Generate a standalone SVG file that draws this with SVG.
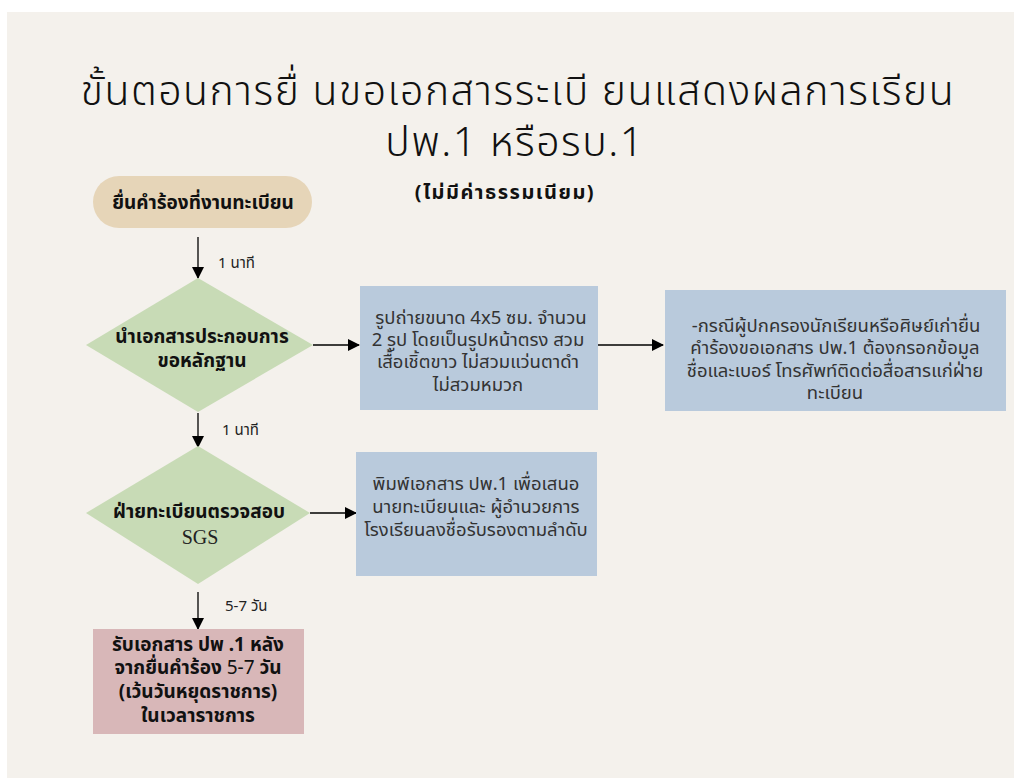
<svg xmlns="http://www.w3.org/2000/svg" width="1020" height="778" viewBox="0 0 1020 778">
<defs>
<marker id="ah" markerWidth="12" markerHeight="12" refX="11" refY="6" orient="auto" markerUnits="userSpaceOnUse">
<path d="M0,0 L12,6 L0,12 Z" fill="#000"/>
</marker>
<style>
.t{font-family:"Noto Sans","Noto Sans Thai","Liberation Sans",sans-serif;fill:#111;}
.b{font-weight:bold;font-size:19px;}
.n{font-size:18.5px;fill:#333;}
.s{font-size:15px;fill:#222;}
.c{stroke:#000;stroke-width:1.3;fill:none;marker-end:url(#ah);}
</style>
</defs>
<rect x="0" y="0" width="1020" height="778" fill="#fff"/>
<rect x="7" y="12" width="1007" height="766" fill="#f4f1ec"/>
<g id="title">
<text class="t" x="518" y="105" text-anchor="middle" font-size="41" font-weight="300" letter-spacing="1.5">ขั้นตอนการยื่ นขอเอกสารระเบี ยนแสดงผลการเรียน</text>
<text class="t" x="515" y="156" text-anchor="middle" font-size="41" font-weight="300" letter-spacing="1.5">ปพ.1 หรือรบ.1</text>
<text class="t" x="505" y="199" text-anchor="middle" font-size="20" font-weight="bold" letter-spacing="1.5">(ไม่มีค่าธรรมเนียม)</text>
</g>
<g id="connectors">
<line class="c" x1="198" y1="237" x2="198" y2="278"/>
<text class="t s" x="218" y="268">1 นาที</text>
<line class="c" x1="313" y1="345" x2="359" y2="345"/>
<line class="c" x1="598" y1="345" x2="663" y2="345"/>
<line class="c" x1="198" y1="413" x2="198" y2="447"/>
<text class="t s" x="222" y="435">1 นาที</text>
<line class="c" x1="310" y1="513" x2="356" y2="513"/>
<line class="c" x1="198" y1="592" x2="198" y2="629"/>
<text class="t s" x="225" y="611">5-7 วัน</text>
</g>
<g id="n1">
<rect x="93" y="176" width="219" height="52" rx="26" fill="#e6d5b8"/>
<text class="t b" x="203" y="209" text-anchor="middle">ยื่นคำร้องที่งานทะเบียน</text>
</g>
<g id="n2">
<polygon points="198,278 313,345 198,412 86,345" fill="#c8dbb6"/>
<text class="t b" x="202" y="343" text-anchor="middle">นำเอกสารประกอบการ</text>
<text class="t b" x="202" y="367" text-anchor="middle">ขอหลักฐาน</text>
</g>
<g id="n3">
<rect x="360" y="286" width="238" height="124" fill="#b9cadc"/>
<text class="t n" x="481" y="324" text-anchor="middle">รูปถ่ายขนาด 4x5 ซม. จำนวน</text>
<text class="t n" x="478" y="346" text-anchor="middle">2 รูป โดยเป็นรูปหน้าตรง สวม</text>
<text class="t n" x="478" y="368" text-anchor="middle">เสื้อเชิ้ตขาว ไม่สวมแว่นตาดำ</text>
<text class="t n" x="478" y="391" text-anchor="middle">ไม่สวมหมวก</text>
</g>
<g id="n4">
<rect x="665" y="290" width="341" height="121" fill="#b9cadc"/>
<text class="t n" x="836" y="332" text-anchor="middle">-กรณีผู้ปกครองนักเรียนหรือศิษย์เก่ายื่น</text>
<text class="t n" x="835" y="354" text-anchor="middle">คำร้องขอเอกสาร ปพ.1 ต้องกรอกข้อมูล</text>
<text class="t n" x="835" y="377" text-anchor="middle">ชื่อและเบอร์ โทรศัพท์ติดต่อสื่อสารแก่ฝ่าย</text>
<text class="t n" x="835" y="399" text-anchor="middle">ทะเบียน</text>
</g>
<g id="n5">
<polygon points="198,446 310,513 198,584 86,513" fill="#c8dbb6"/>
<text class="t b" x="199" y="518" text-anchor="middle">ฝ่ายทะเบียนตรวจสอบ</text>
<text x="200" y="544" text-anchor="middle" font-family="Liberation Serif,serif" font-size="20" fill="#222">SGS</text>
</g>
<g id="n6">
<rect x="356" y="452" width="241" height="124" fill="#b9cadc"/>
<text class="t n" x="476" y="490" text-anchor="middle">พิมพ์เอกสาร ปพ.1 เพื่อเสนอ</text>
<text class="t n" x="476" y="513" text-anchor="middle">นายทะเบียนและ ผู้อำนวยการ</text>
<text class="t n" x="476" y="536" text-anchor="middle">โรงเรียนลงชื่อรับรองตามลำดับ</text>
</g>
<g id="n7">
<rect x="93" y="629" width="211" height="105" fill="#d8b7b8"/>
<text class="t b" x="198" y="651" text-anchor="middle">รับเอกสาร ปพ .1 หลัง</text>
<text class="t b" x="198" y="674" text-anchor="middle">จากยื่นคำร้อง <tspan font-weight="normal">5-7</tspan> วัน</text>
<text class="t b" x="198" y="698" text-anchor="middle">(เว้นวันหยุดราชการ)</text>
<text class="t b" x="198" y="722" text-anchor="middle">ในเวลาราชการ</text>
</g>
</svg>
